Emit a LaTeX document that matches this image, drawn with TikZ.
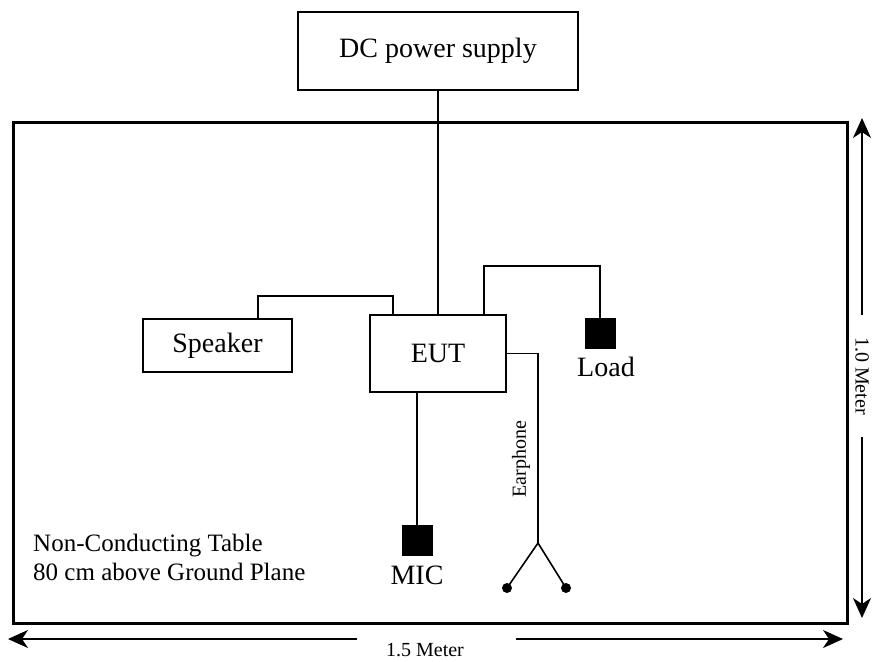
\documentclass[tikz,border=0pt]{standalone}
\usepackage{fontspec}
\setmainfont{Liberation Serif}
\usetikzlibrary{arrows.meta}
\begin{document}
\begin{tikzpicture}[x=1pt,y=-1pt,
  wire/.style={line width=1.6pt},
  boxnode/.style={draw,line width=1.6pt,inner sep=0pt,font=\fontsize{28}{32}\selectfont},
  blk/.style={fill=black,draw=black,inner sep=0pt,minimum width=30pt,minimum height=30pt},
  lbl/.style={inner sep=0pt,font=\fontsize{28}{32}\selectfont},
  small/.style={inner sep=0pt,font=\fontsize{20}{24}\selectfont},
  dimarrow/.style={line width=1.6pt,-{Stealth[length=20pt,width=18pt,inset=6pt]}},
  dot/.style={circle,fill=black,inner sep=0pt,minimum size=10pt}]
\useasboundingbox (0,0) rectangle (874,661);
% table
\node[draw,line width=3pt,inner sep=0pt,minimum width=834pt,minimum height=501pt,anchor=north west] (table) at (12,121) {};
% boxes
\node[boxnode,minimum width=280pt,minimum height=78pt] (dc) at (438,51) {DC power supply};
\node[boxnode,minimum width=136pt,minimum height=77pt] (eut) at (438,353.5) {EUT};
\node[boxnode,minimum width=149pt,minimum height=53pt] (spk) at (217.5,345.5) {Speaker};
\node[blk] (load) at (600,333) {};
\node[lbl,anchor=north] (loadl) at (606,357) {Load};
\node[blk] (mic) at (417,540) {};
\node[lbl] (micl) at (417,575) {MIC};
% wires
\draw[wire] (dc.south) -- (eut.north);
\coordinate (se) at (393,296);
\draw[wire] ([xshift=40.5pt]spk.north) |- (se) -- (se |- eut.north);
\coordinate (lt) at (600,266);
\draw[wire] ([xshift=46pt]eut.north) |- (lt) -- (load.north);
\draw[wire] (eut.south -| mic.north) -- (mic.north);
% earphone
\coordinate (ej) at (538,543);
\node[dot] (d1) at (507,588) {};
\node[dot] (d2) at (566,588) {};
\draw[wire] (eut.east) -| (ej);
\draw[wire] (d1.center) -- (ej) -- (d2.center);
\node[small,rotate=90] (earl) at (521,459) {Earphone};
% table text
\node[inner sep=0pt,anchor=west,align=left,font=\fontsize{25}{29}\selectfont] (tt) at (33,557.5) {Non-Conducting Table\\80 cm above Ground Plane};
% dimensions
\node[small,rotate=-90] (dimv) at (862,376) {1.0 Meter};
\coordinate (v1) at (862,315);
\coordinate (v2) at (862,118);
\coordinate (v3) at (862,437);
\coordinate (v4) at (862,618);
\draw[dimarrow] (v1) -- (v2);
\draw[dimarrow] (v3) -- (v4);
\node[small] (dimh) at (425,650) {1.5 Meter};
\coordinate (h1) at (357,639);
\coordinate (h2) at (8,639);
\coordinate (h3) at (516,639);
\coordinate (h4) at (843,639);
\draw[dimarrow] (h1) -- (h2);
\draw[dimarrow] (h3) -- (h4);
\end{tikzpicture}
\end{document}
